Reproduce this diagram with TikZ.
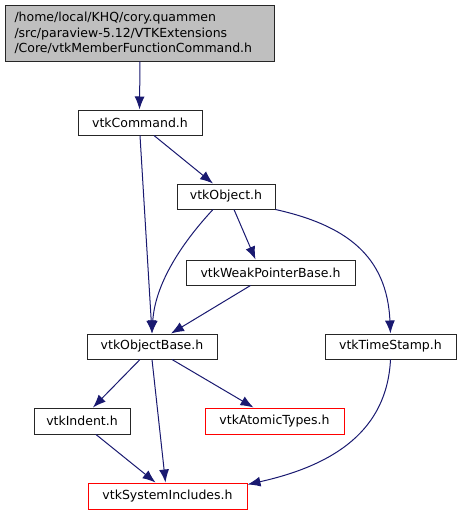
\documentclass[tikz,border=0pt]{standalone}
\usepackage{fontspec}
\setmainfont{DejaVu Sans}
\usetikzlibrary{arrows.meta}
\definecolor{edgecol}{HTML}{191970}
\definecolor{topfill}{HTML}{BFBFBF}
\tikzset{
  box/.style={draw=black!85, line width=1pt, fill=white, inner sep=0pt, minimum height=25pt,
    font=\fontsize{12.5}{15.5}\selectfont},
  redbox/.style={box, draw=red},
  topbox/.style={box, fill=topfill, align=left, inner sep=0pt},
  edge/.style={draw=edgecol, line width=1pt, -{Latex[length=13pt,width=10pt]}},
}
\begin{document}
\begin{tikzpicture}[x=1pt,y=-1pt]
\useasboundingbox (0,0) rectangle (461,515);
\node[topbox, minimum width=269pt, minimum height=56pt] (top) at (139.5,33)
  {\parbox{250pt}{\raggedright /home/local/KHQ/cory.quammen\\/src/paraview-5.12/VTKExtensions\\/Core/vtkMemberFunctionCommand.h}};
\node[box, minimum width=124pt] (cmd) at (140,122.5) {vtkCommand.h};
\node[box, minimum width=98pt] (obj) at (226,196.5) {vtkObject.h};
\node[box, minimum width=169pt] (weak) at (270.5,272.5) {vtkWeakPointerBase.h};
\node[box, minimum width=130pt] (base) at (152,346.5) {vtkObjectBase.h};
\node[box, minimum width=131pt] (ts) at (390.5,346.5) {vtkTimeStamp.h};
\node[box, minimum width=96pt, minimum height=26pt] (indent) at (82,421) {vtkIndent.h};
\node[redbox, minimum width=139pt, minimum height=26pt] (atomic) at (274.5,421) {vtkAtomicTypes.h};
\node[redbox, minimum width=159pt, minimum height=26pt] (sys) at (167.5,496) {vtkSystemIncludes.h};

\draw[edge] (top.south -| cmd.north) -- (cmd.north -| top.south);
\draw[edge] ([xshift=14pt]cmd.south) -- ([xshift=-13pt]obj.north);
\draw[edge] (cmd.south) -- (base.north);
\draw[edge] ([xshift=-13pt]obj.south) .. controls (180,245) and (155,285) .. (base.north);
\draw[edge] ([xshift=8pt]obj.south) -- ([xshift=-15pt]weak.north);
\draw[edge] (obj.south east) .. controls (345,225) and (387,255) .. (ts.north);
\draw[edge] ([xshift=-20pt]weak.south) -- ([xshift=19pt]base.north);
\draw[edge] ([xshift=-12pt]base.south) -- ([xshift=11pt]indent.north);
\draw[edge] (base.south) -- ([xshift=-2pt]sys.north);
\draw[edge] ([xshift=20pt]base.south) -- ([xshift=-21pt]atomic.north);
\draw[edge] ([xshift=14pt]indent.south) -- ([xshift=-12pt]sys.north);
\draw[edge] (ts.south) .. controls (387,430) and (335,465) .. ([yshift=-2pt]sys.north east);
\end{tikzpicture}
\end{document}
